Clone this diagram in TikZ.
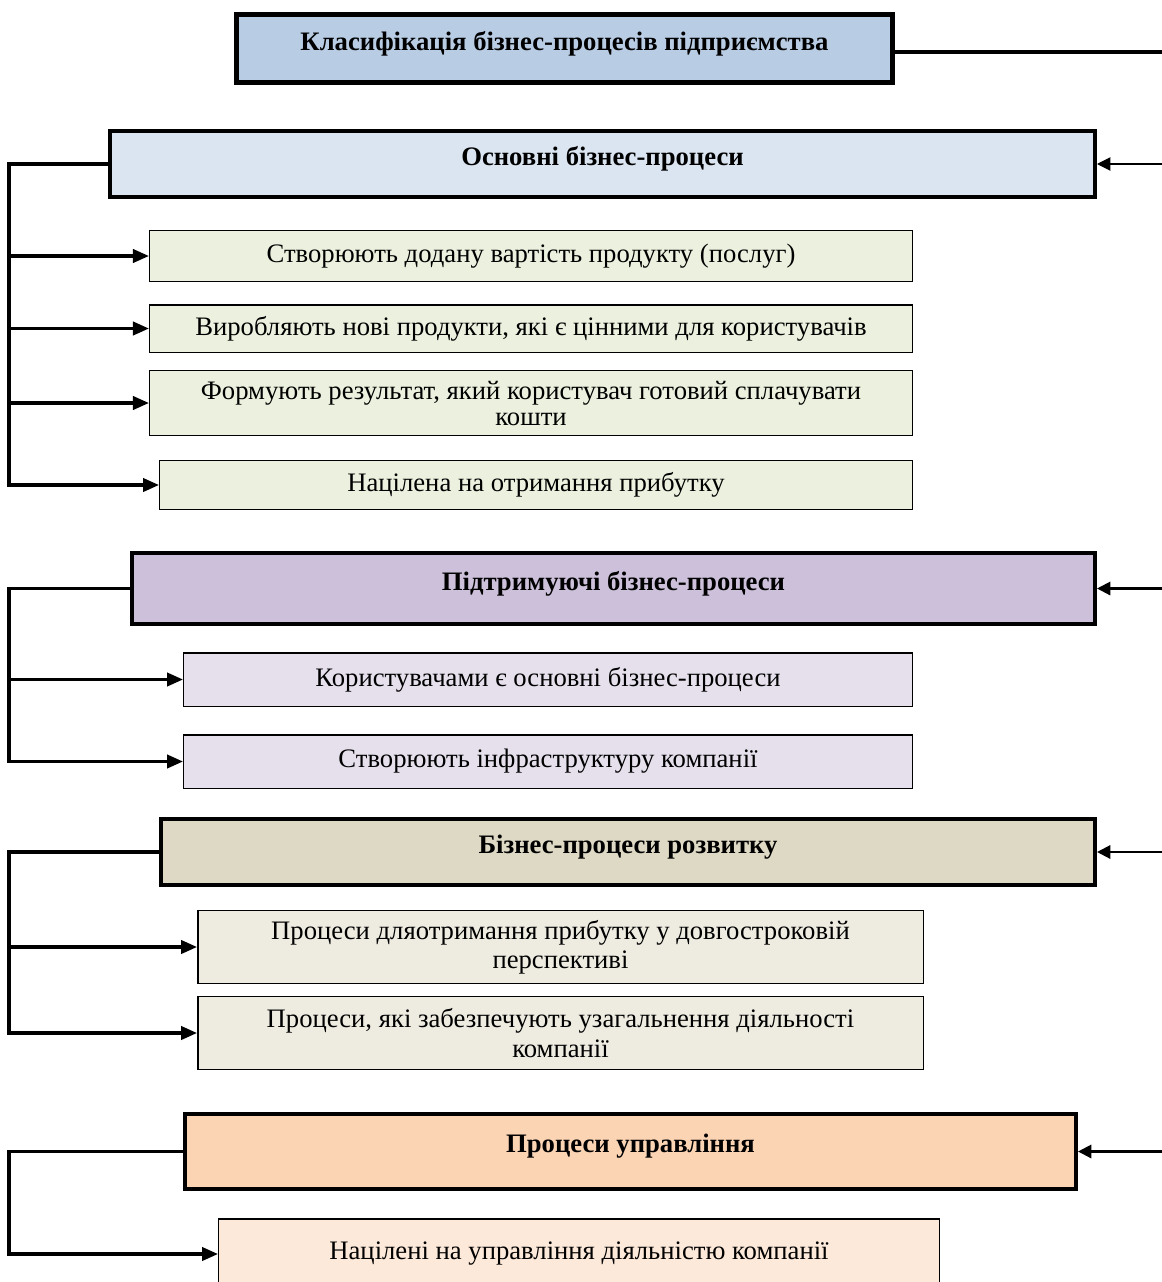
\documentclass[tikz,border=0pt]{standalone}
\usepackage{fontspec}
\setmainfont{Liberation Serif}
\usetikzlibrary{arrows.meta}
\definecolor{hdblue}{HTML}{B8CCE4}
\definecolor{osnblue}{HTML}{DBE5F1}
\definecolor{osngreen}{HTML}{EBF1DE}
\definecolor{pidviolet}{HTML}{CCC0DA}
\definecolor{pidlight}{HTML}{E5E0EC}
\definecolor{rozvtan}{HTML}{DDD9C4}
\definecolor{rozvlight}{HTML}{EEECE1}
\definecolor{upravpeach}{HTML}{FBD4B4}
\definecolor{upravlight}{HTML}{FDE9D9}
\begin{document}
\begin{tikzpicture}[x=0.75pt,y=-0.75pt,
  font=\fontsize{20}{22}\selectfont,
  group/.style={draw,line width=3pt,inner sep=0pt,text depth=12pt,font=\fontsize{20}{22}\selectfont\bfseries},
  item/.style={draw,line width=1.1pt,inner sep=0pt,align=center},
  bar/.style={line width=2.3pt},
  arr/.style={line width=2.3pt,-{Triangle[length=12pt,width=10pt]}},
  inarr/.style={line width=1.6pt,-{Triangle[length=10pt,width=10pt]}}]
\useasboundingbox (0,0) rectangle (1162,1282);
\node[group,line width=3.75pt,fill=hdblue,minimum width=492pt,minimum height=51pt] (title) at (564.5,48.5) {Класифікація бізнес-процесів підприємства};
\node[group,fill=osnblue,minimum width=738.75pt,minimum height=49.5pt] (osn) at (602.5,164) {Основні бізнес-процеси};
\node[item,fill=osngreen,minimum width=572pt,minimum height=38pt] (osn1) at (531,256) {Створюють додану вартість продукту (послуг)};
\node[item,fill=osngreen,minimum width=572pt,minimum height=35.6pt] (osn2) at (531,328.5) {Виробляють нові продукти, які є цінними для користувачів};
\node[item,fill=osngreen,minimum width=572pt,minimum height=48.4pt] (osn3) at (531,403) {Формують результат, який користувач готовий сплачувати\\[-2.5pt]кошти};
\node[item,fill=osngreen,minimum width=564.4pt,minimum height=36.4pt] (osn4) at (536,485) {Націлена на отримання прибутку};
\node[group,fill=pidviolet,minimum width=722.25pt,minimum height=53.25pt] (pid) at (613.5,588.5) {Підтримуючі бізнес-процеси};
\node[item,fill=pidlight,minimum width=546.4pt,minimum height=40.1pt] (pid1) at (548,679.5) {Користувачами є основні бізнес-процеси};
\node[item,fill=pidlight,minimum width=546.4pt,minimum height=40.1pt] (pid2) at (548,761.5) {Створюють інфраструктуру компанії};
\node[group,fill=rozvtan,minimum width=700.5pt,minimum height=49.5pt] (rozv) at (628,852) {Бізнес-процеси розвитку};
\node[item,fill=rozvlight,minimum width=544.1pt,minimum height=54.4pt] (rozv1) at (560.5,947) {Процеси дляотримання прибутку у довгостроковій\\перспективі};
\node[item,fill=rozvlight,minimum width=544.1pt,minimum height=54.4pt] (rozv2) at (560.5,1033) {Процеси, які забезпечують узагальнення діяльності\\компанії};
\node[group,fill=upravpeach,minimum width=668.25pt,minimum height=56.25pt] (uprav) at (630.5,1151.5) {Процеси управління};
\node[item,fill=upravlight,minimum width=540.4pt,minimum height=52.5pt] (uprav1) at (579,1254) {Націлені на управління діяльністю компанії};
\coordinate (rt) at (1162,52);
\coordinate (lf) at (9,0);
\draw[bar,line width=2.6pt] (rt -| title.east) -- (rt);
\draw[inarr,line width=0.8pt] (osn.east -| rt) -- (osn.east);
\draw[inarr] (pid.east -| rt) -- (pid.east);
\draw[inarr] (rozv.east -| rt) -- (rozv.east);
\draw[inarr] (uprav.east -| rt) -- (uprav.east);
\draw[arr] (osn.west) -- (osn.west -| lf) |- (osn4.west);
\draw[arr] (osn1.west -| lf) -- (osn1.west);
\draw[arr] (osn2.west -| lf) -- (osn2.west);
\draw[arr] (osn3.west -| lf) -- (osn3.west);
\draw[arr] (pid.west) -- (pid.west -| lf) |- (pid2.west);
\draw[arr] (pid1.west -| lf) -- (pid1.west);
\draw[arr] (rozv.west) -- (rozv.west -| lf) |- (rozv2.west);
\draw[arr] (rozv1.west -| lf) -- (rozv1.west);
\draw[arr] (uprav.west) -- (uprav.west -| lf) |- (uprav1.west);
\end{tikzpicture}
\end{document}
